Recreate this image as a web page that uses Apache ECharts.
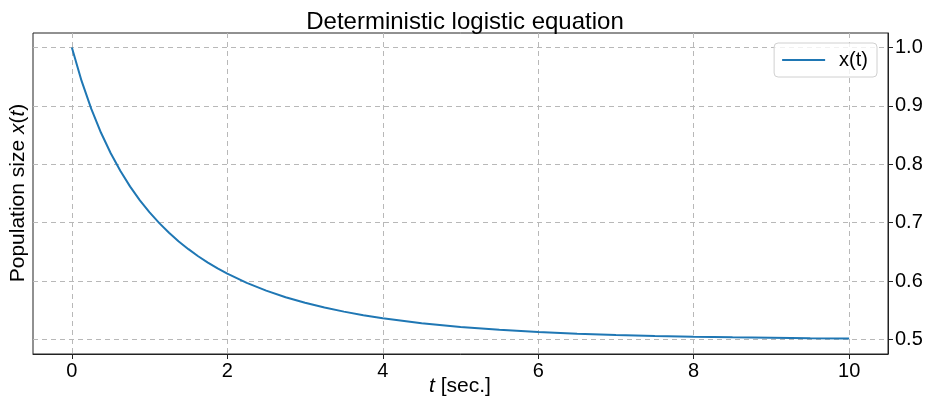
<!DOCTYPE html>
<html><head><meta charset="utf-8">
<script src="https://cdn.jsdelivr.net/npm/echarts@6/dist/echarts.min.js"></script>
<style>html,body{margin:0;padding:0;background:#fff}#c{width:926px;height:403px}</style>
</head><body><div id="c"></div>
<script>
const tValues = [0,0.125,0.25,0.375,0.5,0.625,0.75,0.875,1,1.125,1.25,1.375,1.5,1.625,1.75,1.875,2,2.25,2.5,2.75,3,3.25,3.5,3.75,4,4.5,5,5.5,6,6.5,7,7.5,8,8.5,9,9.5,10];
const xValues = [1.0,0.9429,0.8949,0.8540,0.8189,0.7884,0.7618,0.7383,0.7176,0.6992,0.6827,0.6679,0.6546,0.6425,0.6317,0.6217,0.6127,0.5969,0.5836,0.5723,0.5628,0.5546,0.5476,0.5415,0.5363,0.5278,0.5214,0.5165,0.5128,0.5099,0.5077,0.5059,0.5046,0.5036,0.5028,0.5022,0.5017];
const xTicks = [0,2,4,6,8,10];
const yTicks = [0.5,0.6,0.7,0.8,0.9,1.0];
const seriesName = 'x(t)';
const FONT = 'Liberation Sans, Arial, sans-serif';

const chart = echarts.init(document.getElementById('c'));
const gridLine = {show:true, lineStyle:{color:'#b8b8b8', type:[5,4], width:1}};
const richIt = {i:{fontStyle:'italic', fontFamily:FONT, fontSize:21, fill:'#000', color:'#000'}};
chart.setOption({
  animation:false,
  title:{text:'Deterministic logistic equation', left:460, top:5, textAlign:'center',
    textStyle:{fontFamily:FONT, fontSize:24, fontWeight:'normal', color:'#000'}},
  legend:{right:49, top:43, orient:'vertical', itemWidth:43, itemHeight:14, itemGap:5,
    padding:[7,9,7,8], borderColor:'#d0d0d0', borderWidth:1, borderRadius:4,
    backgroundColor:'rgba(255,255,255,0.8)',
    textStyle:{fontFamily:FONT, fontSize:20, color:'#000', padding:[0,0,0,9]},
    data:[{name:seriesName, icon:'path://M0,6 L43,6 L43,8 L0,8 Z'}]},
  grid:{left:33, right:38, top:33, bottom:49, outerBoundsMode:'none', containLabel:false,
    show:true, borderColor:'#222', borderWidth:1, backgroundColor:'transparent'},
  graphic:[
    {type:'text', x:460, y:386, style:{text:'{i|t} [sec.]', rich:richIt, font:'21px Liberation Sans, Arial, sans-serif',
      fill:'#000', align:'center', verticalAlign:'middle'}},
    {type:'text', x:18, y:193, rotation:Math.PI/2, style:{text:'Population size {i|x}({i|t})', rich:richIt,
      font:'21px Liberation Sans, Arial, sans-serif', fill:'#000', align:'center', verticalAlign:'middle'}}
  ],
  xAxis:{type:'value', min:-0.5, max:10.5,
    axisLine:{show:true, onZero:false, lineStyle:{color:'#222'}},
    axisTick:{show:true, length:5, inside:false, customValues:xTicks, lineStyle:{color:'#222'}},
    axisLabel:{customValues:xTicks, fontFamily:FONT, fontSize:20, color:'#000', margin:7},
    splitLine:gridLine},
  yAxis:[{type:'value', min:0.475, max:1.025, position:'right',
    axisLine:{show:true, onZero:false, lineStyle:{color:'#222'}},
    axisTick:{show:true, length:5, customValues:yTicks, lineStyle:{color:'#222'}},
    axisLabel:{customValues:yTicks, fontFamily:FONT, fontSize:20, color:'#000', margin:7,
      formatter:v=>v.toFixed(1)},
    splitLine:gridLine}],
  series:[{name:seriesName, type:'line', yAxisIndex:0, showSymbol:false, symbol:'none',
    smooth:false,
    lineStyle:{color:'#1f77b4', width:2}, itemStyle:{color:'#1f77b4'},
    data:tValues.map((t,i)=>[t,xValues[i]])}]
});
</script></body></html>
